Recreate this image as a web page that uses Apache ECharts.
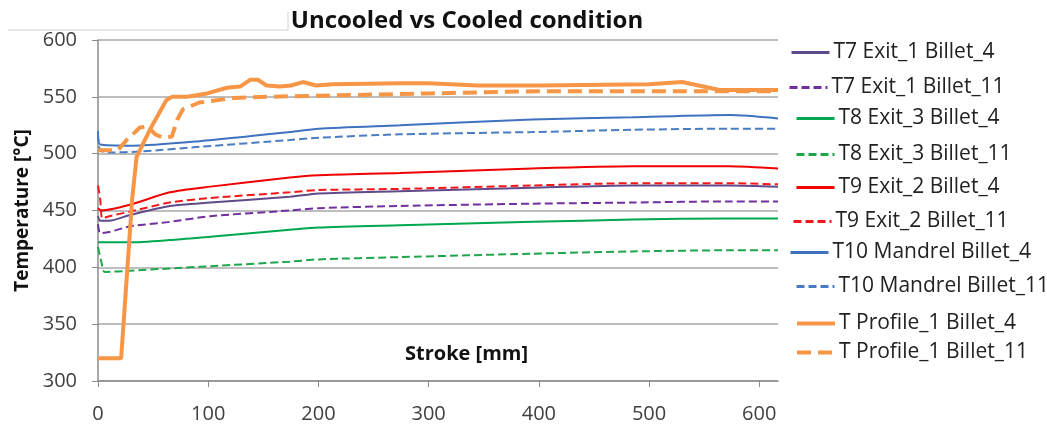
<!DOCTYPE html>
<html>
<head>
<meta charset="utf-8">
<script src="https://cdn.jsdelivr.net/npm/echarts@6/dist/echarts.min.js"></script>
<style>
  html, body { margin: 0; padding: 0; background: #fff; }
  #chart { width: 1047px; height: 424px; }
</style>
</head>
<body>
<div id="chart"></div>
<script>
// 数据 (stroke mm, temperature °C)
var seriesNames = [
    'T7 Exit_1 Billet_4', 'T7 Exit_1 Billet_11',
    'T8 Exit_3 Billet_4', 'T8 Exit_3 Billet_11',
    'T9 Exit_2 Billet_4', 'T9 Exit_2 Billet_11',
    'T10 Mandrel Billet_4', 'T10 Mandrel Billet_11',
    'T Profile_1 Billet_4', 'T Profile_1 Billet_11'
];
var xTicks = [0, 100, 200, 300, 400, 500, 600];

var t7b4 = [[0,445],[2,441],[10,441],[29,446],[65,454],[102,457],[174,462],[200,465],[274,467],[394,470],[485,472],[573,472],[617,471]];
var t7b11 = [[0,438],[2,430],[10,431],[29,436],[65,440],[102,445],[174,450],[200,452],[274,454],[394,456],[485,457],[573,458],[617,458]];
var t8b4 = [[0,422],[29,422],[65,424],[102,427],[174,433],[200,435],[274,437],[394,440],[485,442],[573,443],[617,443]];
var t8b11 = [[0,418],[3,405],[6,396],[29,397],[65,399],[102,401],[174,405],[200,407],[274,409],[394,412],[485,414],[573,415],[617,415]];
var t9b4 = [[0,452],[3,450],[29,455],[65,466],[102,471],[174,479],[200,481],[274,483],[394,487],[485,489],[573,489],[617,487]];
var t9b11 = [[0,472],[2,460],[4,443],[10,445],[29,449],[65,457],[102,461],[174,466],[200,468],[274,469],[394,472],[485,474],[573,474],[617,473]];
var t10b4 = [[0,520],[2,508],[30,507],[92,511],[174,519],[200,522],[274,525],[394,530],[485,532],[573,534],[617,531]];
var t10b11 = [[0,517],[2,503],[10,501],[40,502],[92,506],[174,512],[200,514],[274,517],[394,519],[485,521],[573,522],[617,522]];
var tp1b4 = [[0,320],[21,320],[26,390],[31,460],[35,497],[47,521],[62,547],[67,550],[81,550],[99,553],[117,558],[129,559],[138,565],[145,565],[153,560],[165,559],[175,560],[186,563],[198,560],[213,561],[274,562],[300,562],[344,560],[400,560],[500,561],[530,563],[564,556],[617,556]];
var tp1b11 = [[0,503],[18,503],[26,512],[38,523],[45,524],[52,517],[59,514],[67,515],[72,530],[77,539],[92,545],[123,549],[153,550],[200,551],[250,552],[300,553],[400,555],[500,555],[617,555]];

var allData = [t7b4, t7b11, t8b4, t8b11, t9b4, t9b11, t10b4, t10b11, tp1b4, tp1b11];

var colors = ['#5F4B8B', '#7030A0', '#00A850', '#1FA64A', '#F00000', '#F01818', '#3F72BF', '#4A7CC4', '#F79646', '#F79646'];
var dashed = [false, true, false, true, false, true, false, true, false, true];
var legendTop = [53, 88, 119, 155, 188, 222, 253, 287, 324, 353];
var legendLeft = [790, 788, 795, 795, 795, 792, 789, 795, 795, 795];

var myChart = echarts.init(document.getElementById('chart'));

var series = [];
var legends = [];
for (var i = 0; i < seriesNames.length; i++) {
    var thick = i >= 8;
    var dash = dashed[i] ? (thick ? [14, 7] : [8, 4]) : 'solid';
    series.push({
        name: seriesNames[i],
        type: 'line',
        symbol: 'none',
        showSymbol: false,
        smooth: thick ? false : 0.25,
        data: allData[i],
        z: thick ? 5 : 3,
        lineStyle: {
            color: colors[i],
            width: thick ? 4 : 2,
            type: dash
        },
        itemStyle: { color: colors[i] }
    });
    legends.push({
        data: [seriesNames[i]],
        left: legendLeft[i],
        top: legendTop[i] - 11,
        padding: 0,
        itemWidth: 38,
        itemHeight: 14,
        itemGap: 4,
        selectedMode: false,
        itemStyle: { opacity: 0 },
        lineStyle: { width: thick ? 4 : 3, color: colors[i], type: dash },
        textStyle: {
            fontFamily: 'Open Sans',
            fontSize: 21,
            color: '#222',
            padding: [0, 0, 0, -1]
        }
    });
}

var option = {
    animation: false,
    backgroundColor: '#fff',
    title: {
        text: 'Uncooled vs Cooled condition',
        left: 462,
        textAlign: 'center',
        top: 4,
        textStyle: {
            fontFamily: 'Open Sans',
            fontSize: 24,
            fontWeight: 'bold',
            color: '#111'
        }
    },
    legend: legends,
    grid: {
        left: 98,
        right: 269,
        top: 40,
        bottom: 42
    },
    xAxis: {
        type: 'value',
        min: 0,
        max: 617,
        interval: 100,
        axisLine: { show: true, onZero: false, lineStyle: { color: '#8C8C8C', width: 1.5 } },
        axisTick: { show: true, length: 6, customValues: xTicks, lineStyle: { color: '#8C8C8C' } },
        axisLabel: {
            customValues: xTicks,
            margin: 23,
            fontFamily: 'Open Sans',
            fontSize: 20,
            color: '#404040'
        },
        splitLine: { show: false }
    },
    yAxis: {
        type: 'value',
        min: 300,
        max: 600,
        interval: 50,
        name: 'Temperature [°C]',
        nameLocation: 'middle',
        nameGap: 62,
        nameTextStyle: {
            fontFamily: 'Open Sans',
            fontSize: 19,
            fontWeight: 'bold',
            color: '#111'
        },
        axisLine: { show: true, lineStyle: { color: '#8C8C8C', width: 1.5 } },
        axisTick: { show: true, length: 6, lineStyle: { color: '#8C8C8C' } },
        axisLabel: {
            margin: 21,
            fontFamily: 'Open Sans',
            fontSize: 20,
            color: '#404040'
        },
        splitLine: { show: true, lineStyle: { color: '#A8A8A8', width: 1.5 } }
    },
    graphic: [
        {
            type: 'text',
            left: 405,
            top: 344,
            style: {
                text: 'Stroke [mm]',
                font: 'bold 20px "Open Sans"',
                fill: '#111'
            }
        },
        { type: 'line', shape: { x1: 8, y1: 30, x2: 288, y2: 30 }, style: { stroke: '#D0D0D0', lineWidth: 1 } },
        { type: 'line', shape: { x1: 288, y1: 12, x2: 288, y2: 30 }, style: { stroke: '#D0D0D0', lineWidth: 1 } },
        { type: 'line', shape: { x1: 640, y1: 12, x2: 640, y2: 30 }, style: { stroke: '#D0D0D0', lineWidth: 1 } }
    ],
    series: series
};

myChart.setOption(option);
</script>
</body>
</html>
